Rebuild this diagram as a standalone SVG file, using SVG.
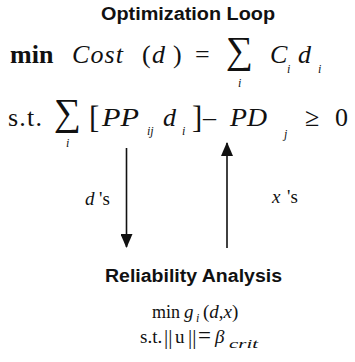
<svg xmlns="http://www.w3.org/2000/svg" width="355" height="362" viewBox="0 0 355 362">
<style>
.t{font-family:"Liberation Sans",Arial,sans-serif;font-weight:bold;font-size:18px;fill:#111}
.m{font-family:"Liberation Serif","Times New Roman",serif;fill:#111}
.L{font-size:26px}
.S{font-size:19px}
.it{font-style:italic}
.b{font-weight:bold}
.sub{font-size:12px;font-style:italic}
.sig{font-size:38px}
.br{font-size:31px}
.ar{stroke:#111;stroke-width:1.6;fill:none}
</style>
<defs>
<marker id="ah" viewBox="0 0 14 12" refX="13" refY="6" markerWidth="14" markerHeight="12" markerUnits="userSpaceOnUse" orient="auto">
<path d="M0,0 L14,6 L0,12 Z" fill="#111"/>
</marker>
</defs>
<rect width="355" height="362" fill="#fff"/>
<g id="optimization-loop">
<text class="t" x="101" y="20" textLength="174" lengthAdjust="spacingAndGlyphs">Optimization Loop</text>
<text x="10" y="63" class="m L b">min</text>
<text x="72" y="63" class="m L it" textLength="51">Cost</text>
<text x="142" y="63" class="m L">(</text>
<text x="152" y="63" class="m L it">d</text>
<text x="173" y="63" class="m L">)</text>
<text x="195" y="63" class="m L">=</text>
<text x="226" y="63" class="m sig">∑</text>
<text x="238" y="87" class="m sub">i</text>
<text x="270" y="63" class="m L it">C</text>
<text x="287" y="73" class="m sub">i</text>
<text x="298" y="63" class="m L it">d</text>
<text x="318" y="73" class="m sub">i</text>
<text x="8" y="126" class="m L" textLength="34">s.t.</text>
<text x="54" y="125" class="m sig">∑</text>
<text x="66" y="147" class="m sub">i</text>
<text x="89" y="128" class="m br">[</text>
<text x="102" y="126" class="m L it" textLength="37" lengthAdjust="spacingAndGlyphs">PP</text>
<text x="147" y="135" class="m sub">ij</text>
<text x="163" y="126" class="m L it">d</text>
<text x="182" y="135" class="m sub">i</text>
<text x="192" y="128" class="m br">]</text>
<text x="203" y="126" class="m L">–</text>
<text x="230" y="126" class="m L it" textLength="37" lengthAdjust="spacingAndGlyphs">PD</text>
<text x="284" y="138" class="m sub">j</text>
<text x="305" y="126" class="m L">≥</text>
<text x="335" y="126" class="m L">0</text>
</g>
<g id="connectors">
<line class="ar" x1="126.5" y1="148" x2="126.5" y2="247" marker-end="url(#ah)"/>
<line class="ar" x1="227" y1="248" x2="227" y2="143" marker-end="url(#ah)"/>
<text x="85" y="205" class="m S it">d</text>
<text x="99" y="205" class="m S">'s</text>
<text x="272" y="203" class="m S it">x</text>
<text x="287" y="203" class="m S">'s</text>
</g>
<g id="reliability-analysis">
<text class="t" x="105" y="282" textLength="177" lengthAdjust="spacingAndGlyphs">Reliability Analysis</text>
<text x="152" y="318" class="m" font-size="18">min</text>
<text x="184" y="318" class="m S it">g</text>
<text x="196" y="322" class="m sub">i</text>
<text x="203" y="318" class="m S">(<tspan class="it">d</tspan>,<tspan class="it">x</tspan>)</text>
<text x="140" y="343" class="m S">s.t.</text>
<text x="164" y="344" class="m" font-size="21">||</text>
<text x="175" y="343" class="m S">u</text>
<text x="188" y="344" class="m" font-size="21">||</text>
<text x="198" y="343" class="m" font-size="23">=</text>
<text x="215" y="343" class="m S it">β</text>
<text x="229" y="348" class="m sub" font-size="13" textLength="29" lengthAdjust="spacingAndGlyphs">crit</text>
</g>
</svg>
